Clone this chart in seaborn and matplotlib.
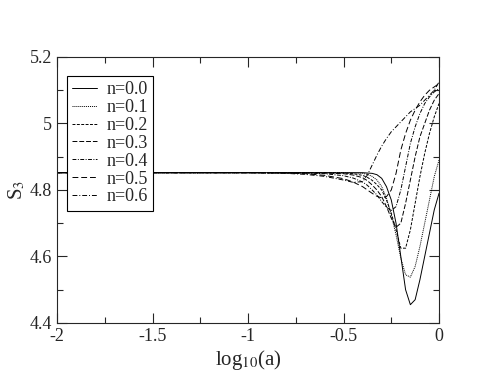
import matplotlib
matplotlib.use("Agg")
import matplotlib.pyplot as plt
import pandas as pd
import seaborn as sns
from matplotlib.ticker import MultipleLocator, FormatStrFormatter

# values
log_a = [-2, -1, -0.8, -0.7, -0.6, -0.5, -0.45, -0.4, -0.375, -0.35, -0.325, -0.3,
         -0.275, -0.25, -0.225, -0.2, -0.175, -0.15, -0.125, -0.1, -0.075, -0.05, -0.025, 0]

s3_n00 = [4.852, 4.852, 4.852, 4.852, 4.852, 4.852, 4.852, 4.852, 4.851, 4.850, 4.846, 4.835,
          4.81, 4.77, 4.70, 4.60, 4.50, 4.455, 4.47, 4.53, 4.60, 4.67, 4.74, 4.79]
s3_n01 = [4.852, 4.852, 4.852, 4.852, 4.852, 4.852, 4.851, 4.850, 4.847, 4.841, 4.83, 4.81,
          4.775, 4.725, 4.665, 4.595, 4.545, 4.538, 4.57, 4.63, 4.70, 4.77, 4.84, 4.89]
s3_n02 = [4.852, 4.852, 4.852, 4.852, 4.852, 4.851, 4.849, 4.844, 4.838, 4.829, 4.816, 4.80,
          4.77, 4.73, 4.68, 4.625, 4.625, 4.68, 4.76, 4.84, 4.91, 4.97, 5.02, 5.06]
s3_n03 = [4.852, 4.852, 4.852, 4.852, 4.851, 4.849, 4.845, 4.837, 4.828, 4.815, 4.80, 4.78,
          4.75, 4.715, 4.688, 4.70, 4.76, 4.83, 4.90, 4.96, 5.00, 5.04, 5.07, 5.09]
s3_n04 = [4.852, 4.852, 4.852, 4.851, 4.849, 4.843, 4.836, 4.824, 4.814, 4.80, 4.785, 4.765,
          4.748, 4.738, 4.75, 4.80, 4.87, 4.94, 4.99, 5.03, 5.06, 5.08, 5.095, 5.105]
s3_n05 = [4.852, 4.852, 4.851, 4.849, 4.844, 4.834, 4.824, 4.81, 4.80, 4.79, 4.781, 4.776,
          4.78, 4.80, 4.85, 4.92, 4.97, 5.01, 5.04, 5.065, 5.085, 5.10, 5.11, 5.12]
s3_n06 = [4.852, 4.852, 4.850, 4.847, 4.841, 4.83, 4.823, 4.825, 4.845, 4.875, 4.905, 4.932,
          4.955, 4.975, 4.99, 5.005, 5.02, 5.035, 5.045, 5.055, 5.07, 5.085, 5.10, 5.125]

labels = ["n=0.0", "n=0.1", "n=0.2", "n=0.3", "n=0.4", "n=0.5", "n=0.6"]
series = [s3_n00, s3_n01, s3_n02, s3_n03, s3_n04, s3_n05, s3_n06]

rows = []
for lab, ys in zip(labels, series):
    for x, y in zip(log_a, ys):
        rows.append({"log_a": x, "S3": y, "n": lab})
df = pd.DataFrame(rows)

sns.set_style("ticks")
plt.rcParams["font.family"] = ["Liberation Serif", "DejaVu Serif"]
plt.rcParams["mathtext.fontset"] = "stix"
plt.rcParams["axes.unicode_minus"] = False

dashes = {
    "n=0.0": "",
    "n=0.1": (1, 1),
    "n=0.2": (3, 1.5),
    "n=0.3": (5, 2),
    "n=0.4": (4, 1.5, 1, 1.5),
    "n=0.5": (6, 3),
    "n=0.6": (5, 2, 1, 2),
}

fig = plt.figure(figsize=(4.94, 3.82), dpi=100)
ax = fig.add_axes([0.1154, 0.1545, 0.7733, 0.6963])
sns.lineplot(data=df, x="log_a", y="S3", hue="n", style="n", dashes=dashes,
             palette=["black"] * 7, linewidth=0.7, ax=ax)

ax.set_xlim(-2, 0)
ax.set_ylim(4.4, 5.2)
ax.xaxis.set_major_locator(MultipleLocator(0.5))
ax.xaxis.set_minor_locator(MultipleLocator(0.25))
ax.yaxis.set_major_locator(MultipleLocator(0.2))
ax.yaxis.set_minor_locator(MultipleLocator(0.1))
ax.xaxis.set_major_formatter(FormatStrFormatter("%g"))
ax.yaxis.set_major_formatter(FormatStrFormatter("%g"))
ax.tick_params(which="both", direction="in", top=True, right=True, labelsize=13, width=0.8)
ax.tick_params(which="major", length=7)
ax.tick_params(which="minor", length=4)
for sp in ax.spines.values():
    sp.set_linewidth(0.8)

ax.set_xlabel(r"log$_{\mathrm{10}}$(a)", fontsize=15, labelpad=2)
ax.set_ylabel(r"S$_{\mathrm{3}}$", fontsize=15, labelpad=2)

leg = ax.legend(loc="upper left", bbox_to_anchor=(0.025, 0.93), fontsize=13,
                frameon=True, fancybox=False, handlelength=1.4, handletextpad=0.5,
                labelspacing=0.05, borderpad=0.3, borderaxespad=0)
leg.get_frame().set_edgecolor("black")
leg.get_frame().set_linewidth(0.8)
leg.get_frame().set_alpha(1)

fig.savefig("out.png", dpi=100)
